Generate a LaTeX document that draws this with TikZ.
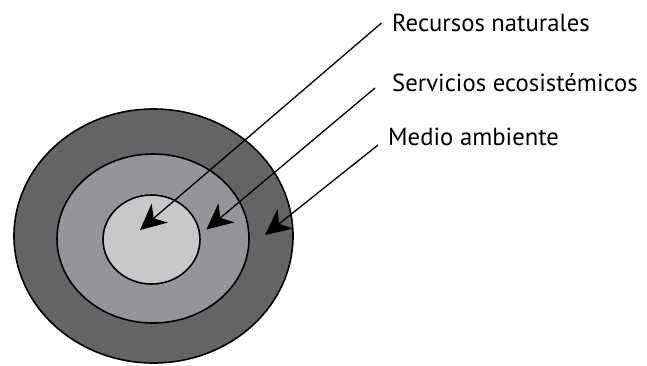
\documentclass[tikz,border=0pt]{standalone}
\usepackage{fontspec}
\setmainfont{PT Sans}
\usetikzlibrary{arrows.meta,shapes.geometric}

\definecolor{darkring}{HTML}{636466}
\definecolor{midring}{HTML}{939598}
\definecolor{lightring}{HTML}{C7C8CA}

\begin{document}
\begin{tikzpicture}[x=1pt,y=-1pt,
	ring/.style={ellipse,draw=black,line width=1.6pt,inner sep=0pt},
	label text/.style={anchor=base west,inner sep=0pt,
		font=\fontsize{24.7}{28}\selectfont},
	pointer/.style={-{Stealth[length=26pt,width=25pt,inset=8pt]},line width=1.3pt}]
	
	\useasboundingbox (0,0) rectangle (647,365);
	
	\node[ring,fill=darkring,minimum width=279pt,minimum height=254pt] (outer) at (153.5,236) {};
	\node[ring,fill=midring,minimum width=192pt,minimum height=169pt] (middle) at (153,238.5) {};
	\node[ring,fill=lightring,minimum width=97pt,minimum height=89pt] (inner) at (151.5,239.5) {};
	
	\node[label text] (recursos) at (392,31.5) {Recursos naturales};
	\node[label text] (servicios) at (392,91.5) {Servicios ecosistémicos};
	\node[label text] (medio) at (388,145) {Medio ambiente};
	
	\coordinate (recursos end) at (381.5,23);
	\coordinate (servicios end) at (375,88);
	\coordinate (medio end) at (378,145);
	\coordinate (recursos tip) at (140,230);
	\coordinate (servicios tip) at (206.5,229.5);
	\coordinate (medio tip) at (265,235);
	
	\draw[pointer] (recursos end) -- (recursos tip);
	\draw[pointer] (servicios end) -- (servicios tip);
	\draw[pointer] (medio end) -- (medio tip);
\end{tikzpicture}
\end{document}
